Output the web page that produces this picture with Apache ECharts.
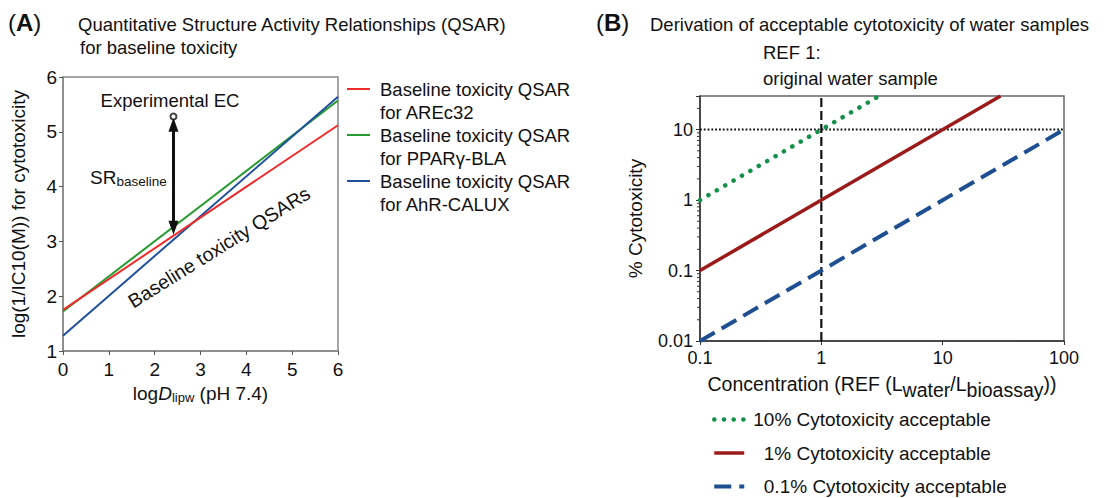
<!DOCTYPE html>
<html>
<head>
<meta charset="utf-8">
<script src="https://cdn.jsdelivr.net/npm/echarts@6/dist/echarts.min.js"></script>
<style>
html,body{margin:0;padding:0;background:#fff;}
#c{width:1108px;height:498px;}
</style>
</head>
<body>
<div id="c"></div>
<script>
// ---------- Panel A data ----------
const qsarX = [0, 6];
const qsarAREc32 = [1.75, 5.12];
const qsarPPARg = [1.72, 5.57];
const qsarAhR = [1.28, 5.64];
const qsarNames = ['Baseline toxicity QSAR\nfor AREc32', 'Baseline toxicity QSAR\nfor PPARγ-BLA', 'Baseline toxicity QSAR\nfor AhR-CALUX'];
const experimentalEC = [2.41, 5.28];
const srArrowFrom = [2.41, 5.13];
const srArrowTo = [2.41, 3.25];

// ---------- Panel B data ----------
const accept10 = [[0.1, 1], [3, 30]];
const accept1 = [[0.1, 0.1], [30, 30]];
const accept01 = [[0.1, 0.01], [100, 10]];
const ref1Line = [[1, 0.01], [1, 30]];
const tenPctLine = [[0.1, 10], [100, 10]];
const acceptNames = ['10% Cytotoxicity acceptable', '1% Cytotoxicity acceptable', '0.1% Cytotoxicity acceptable'];
const minorTicksB_y = [0.02,0.03,0.04,0.05,0.06,0.07,0.08,0.09,0.2,0.3,0.4,0.5,0.6,0.7,0.8,0.9,2,3,4,5,6,7,8,9,20];

const FONT = '"Liberation Sans", Arial, Helvetica, sans-serif';
const pair = (xs, ys) => xs.map((x, i) => [x, ys[i]]);
const logLabel = v => {
  const l = Math.log10(v);
  return Math.abs(l - Math.round(l)) < 1e-6 ? String(Number(v.toPrecision(6))) : '';
};

const chart = echarts.init(document.getElementById('c'), null, {renderer: 'svg'});

const subRich = {
  t: {fontSize: 19, fontFamily: FONT, color: '#111', lineHeight: 22, verticalAlign: 'middle'},
  i: {fontSize: 19, fontFamily: FONT, color: '#111', fontStyle: 'italic', lineHeight: 22, verticalAlign: 'middle'},
  s: {fontSize: 13, fontFamily: FONT, color: '#111', lineHeight: 13, verticalAlign: 'bottom'}
};
const subRichB = {
  t: {fontSize: 19.5, fontFamily: FONT, color: '#111', lineHeight: 32, verticalAlign: 'middle'},
  s: {fontSize: 19.5, fontFamily: FONT, color: '#111', lineHeight: 19, verticalAlign: 'bottom'}
};

const option = {
  animation: false,
  textStyle: {fontFamily: FONT},
  grid: [
    {left: 63, top: 77, width: 275, height: 274, show: true, borderColor: '#888', borderWidth: 1.5, containLabel: false},
    {left: 700, top: 96, width: 364, height: 245, show: true, borderColor: '#666', borderWidth: 1.5, containLabel: false}
  ],
  xAxis: [
    {
      gridIndex: 0, type: 'value', min: 0, max: 6, interval: 1,
      axisLine: {show: true, lineStyle: {color: '#888', width: 1.5}},
      axisTick: {show: true, length: 4, lineStyle: {color: '#555'}},
      splitLine: {show: false},
      axisLabel: {fontSize: 19, color: '#111', margin: 9, fontFamily: FONT},
      name: '{t|log}{i|D}{s|lipw}{t| (pH 7.4)}',
      nameLocation: 'middle', nameGap: 25,
      nameTextStyle: {rich: subRich}
    },
    {
      gridIndex: 1, type: 'log', logBase: 10, min: 0.1, max: 100,
      axisLine: {show: true, lineStyle: {color: '#333', width: 1.5}},
      axisTick: {show: true, length: 4, lineStyle: {color: '#333'}},
      splitLine: {show: false}, minorSplitLine: {show: false},
      axisLabel: {fontSize: 18, color: '#111', margin: 8, fontFamily: FONT, formatter: logLabel},
      name: '{t|Concentration (REF (L}{s|water}{t|/L}{s|bioassay}{t|))}',
      nameLocation: 'middle', nameGap: 27,
      nameTextStyle: {rich: subRichB}
    }
  ],
  yAxis: [
    {
      gridIndex: 0, type: 'value', min: 1, max: 6, interval: 1,
      axisLine: {show: true, lineStyle: {color: '#888', width: 1.5}},
      axisTick: {show: true, length: 4, lineStyle: {color: '#555'}},
      splitLine: {show: false},
      axisLabel: {fontSize: 19, color: '#111', margin: 6, fontFamily: FONT},
      name: 'log(1/IC10(M)) for cytotoxicity',
      nameLocation: 'middle', nameGap: 35,
      nameTextStyle: {fontSize: 19, color: '#111', fontFamily: FONT}
    },
    {
      gridIndex: 1, type: 'log', logBase: 10, min: 0.01, max: 30,
      axisLine: {show: true, lineStyle: {color: '#333', width: 1.5}},
      axisTick: {show: true, length: 4, lineStyle: {color: '#333'}},
      splitLine: {show: false}, minorSplitLine: {show: false},
      axisLabel: {fontSize: 18, color: '#111', margin: 7, fontFamily: FONT, formatter: logLabel},
      name: '% Cytotoxicity',
      nameLocation: 'middle', nameGap: 55,
      nameTextStyle: {fontSize: 19, color: '#111', fontFamily: FONT}
    }
  ],
  legend: [
    {
      data: qsarNames, orient: 'vertical', left: 347, top: 77.5, padding: 0,
      itemWidth: 28, itemHeight: 46, itemGap: 0, selectedMode: false,
      icon: 'path://M0,10.5L23,10.5L23,12.5L0,12.5Z M0,0L28,0Z M0,46L28,46Z',
      itemStyle: {borderWidth: 0},
      textStyle: {fontSize: 18.5, lineHeight: 23, color: '#111', fontFamily: FONT}
    },
    {
      data: [
        {name: acceptNames[0], lineStyle: {width: 4.5}},
        {name: acceptNames[1], lineStyle: {width: 3.5}},
        {name: acceptNames[2], lineStyle: {width: 4}}
      ],
      orient: 'vertical', left: 712, top: 410, height: 120, padding: 0,
      itemWidth: 30, itemHeight: 14, itemGap: 14.5, selectedMode: false,
      itemStyle: {opacity: 0, borderWidth: 0},
      formatter: n => n.indexOf('10%') === 0 ? n : '  ' + n,
      textStyle: {fontSize: 19, lineHeight: 18, color: '#111', fontFamily: FONT, padding: [0, 0, 0, 4]}
    }
  ],
  series: [
    {name: qsarNames[0], type: 'line', xAxisIndex: 0, yAxisIndex: 0, symbol: 'none', data: pair(qsarX, qsarAREc32), lineStyle: {color: '#ee2b2b', width: 2}, itemStyle: {color: '#ee2b2b'}, z: 3},
    {name: qsarNames[1], type: 'line', xAxisIndex: 0, yAxisIndex: 0, symbol: 'none', data: pair(qsarX, qsarPPARg), lineStyle: {color: '#259a2e', width: 2}, itemStyle: {color: '#259a2e'}, z: 2},
    {name: qsarNames[2], type: 'line', xAxisIndex: 0, yAxisIndex: 0, symbol: 'none', data: pair(qsarX, qsarAhR), lineStyle: {color: '#1f4f9e', width: 2}, itemStyle: {color: '#1f4f9e'}, z: 2},
    {
      name: 'Experimental EC', type: 'scatter', xAxisIndex: 0, yAxisIndex: 0,
      data: [experimentalEC], symbol: 'emptyCircle', symbolSize: 6,
      itemStyle: {color: '#111', borderColor: '#111', borderWidth: 2}, z: 5,
      markLine: {
        silent: true, symbol: ['triangle', 'triangle'], symbolSize: [10, 14],
        label: {show: false},
        lineStyle: {color: '#111', width: 3, type: 'solid'},
        data: [[{coord: srArrowFrom}, {coord: srArrowTo}]]
      }
    },
    {name: 'tenPct', type: 'line', xAxisIndex: 1, yAxisIndex: 1, symbol: 'none', data: tenPctLine, lineStyle: {color: '#111', width: 2, type: [1.8, 2], cap: 'butt'}},
    {name: 'ref1', type: 'line', xAxisIndex: 1, yAxisIndex: 1, symbol: 'none', data: ref1Line, lineStyle: {color: '#111', width: 2.2, type: [9, 4]}},
    {name: acceptNames[2], type: 'line', xAxisIndex: 1, yAxisIndex: 1, symbol: 'none', data: accept01, lineStyle: {color: '#1d4f91', width: 4, type: [17, 8]}, itemStyle: {color: '#1d4f91'}},
    {name: acceptNames[1], type: 'line', xAxisIndex: 1, yAxisIndex: 1, symbol: 'none', data: accept1, lineStyle: {color: '#9b1a1a', width: 3.5}, itemStyle: {color: '#9b1a1a'}},
    {name: acceptNames[0], type: 'line', xAxisIndex: 1, yAxisIndex: 1, symbol: 'none', data: accept10, lineStyle: {color: '#14904a', width: 4.5, type: [0.1, 9.6], cap: 'round'}, itemStyle: {color: '#14904a'}},
    {
      name: 'minorTicksY', type: 'custom', xAxisIndex: 1, yAxisIndex: 1, silent: true,
      data: minorTicksB_y.map(v => [0.1, v]),
      renderItem: (params, api) => {
        const p = api.coord([api.value(0), api.value(1)]);
        return {type: 'line', shape: {x1: p[0] - 3, y1: p[1], x2: p[0], y2: p[1]}, style: {stroke: '#333', lineWidth: 1}};
      }
    }
  ],
  graphic: [
    {type: 'text', left: 8, top: 10, style: {text: '({b|A})', fontSize: 24, fontFamily: FONT, fill: '#111', rich: {b: {fontSize: 24, fontWeight: 'bold', fontFamily: FONT, fill: '#111'}}}},
    {type: 'text', x: 78, y: 24, style: {text: 'Quantitative Structure Activity Relationships (QSAR)', fontSize: 18.5, fontFamily: FONT, fill: '#111', verticalAlign: 'middle'}},
    {type: 'text', x: 80, y: 47, style: {text: 'for baseline toxicity', fontSize: 18.5, fontFamily: FONT, fill: '#111', verticalAlign: 'middle'}},
    {type: 'text', left: 596, top: 10, style: {text: '({b|B})', fontSize: 24, fontFamily: FONT, fill: '#111', rich: {b: {fontSize: 24, fontWeight: 'bold', fontFamily: FONT, fill: '#111'}}}},
    {type: 'text', x: 650, y: 24, style: {text: 'Derivation of acceptable cytotoxicity of water samples', fontSize: 18.5, fontFamily: FONT, fill: '#111', verticalAlign: 'middle'}},
    {type: 'text', x: 763, y: 52, style: {text: 'REF 1:', fontSize: 18.5, fontFamily: FONT, fill: '#111', verticalAlign: 'middle'}},
    {type: 'text', x: 763, y: 78, style: {text: 'original water sample', fontSize: 18.5, fontFamily: FONT, fill: '#111', verticalAlign: 'middle'}},
    {type: 'text', x: 170, y: 100, style: {text: 'Experimental EC', fontSize: 18.5, fontFamily: FONT, fill: '#111', align: 'center', verticalAlign: 'middle'}},
    {type: 'text', x: 90, y: 177, style: {text: '{t|SR}{s|baseline}', fontFamily: FONT, fill: '#111', verticalAlign: 'middle', rich: {
      t: {fontSize: 19, fontFamily: FONT, fill: '#111', lineHeight: 22, verticalAlign: 'middle'},
      s: {fontSize: 13.5, fontFamily: FONT, fill: '#111', lineHeight: 13, verticalAlign: 'bottom'}
    }}},
    {type: 'text', x: 219, y: 247, rotation: 32 * Math.PI / 180, style: {text: 'Baseline toxicity QSARs', fontSize: 19.5, fontFamily: FONT, fill: '#111', align: 'center', verticalAlign: 'middle'}}
  ]
};
chart.setOption(option);
</script>
</body>
</html>
